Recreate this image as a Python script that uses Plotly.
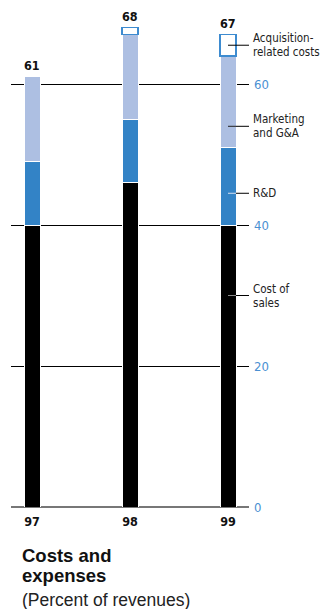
import plotly.graph_objects as go

# Costs and expenses as a percent of revenues, fiscal 97-99
years = ["97", "98", "99"]
cost_of_sales = [40, 46, 40]
r_and_d = [9, 9, 11]
marketing_ga = [12, 12, 13]
acquisition_costs = [None, 1, 3]
totals = [61, 68, 67]
y_ticks = [0, 20, 40, 60]

# Callout labels on the right of the last bar: text lines and the level they point to
callout_lines = [["Acquisition-", "related costs"], ["Marketing", "and G&A"], ["R&D"], ["Cost of", "sales"]]
callout_levels = [65.5, 54, 44.5, 30]

NARROW = "Liberation Sans Narrow, Arial Narrow, DejaVu Sans Condensed, sans-serif"
SANS = "Liberation Sans, Arial, Helvetica, sans-serif"
BLUE_TICK = "#4a90d2"

W, H = 323, 609
M_L, M_R, M_T, M_B = 11, 74, 5, 102
PX_PER_UNIT_Y = 7.05
PX_PER_UNIT_X = 98.0
FIRST_BAR_PX = 32

x_pos = list(range(len(years)))
bar_w = 16 / PX_PER_UNIT_X
plot_h = H - M_T - M_B
plot_w = W - M_L - M_R
x_lo = (M_L - FIRST_BAR_PX) / PX_PER_UNIT_X
x_hi = x_lo + plot_w / PX_PER_UNIT_X
y_hi = plot_h / PX_PER_UNIT_Y

fig = go.Figure()
sep = dict(color="white", width=1)
fig.add_bar(x=x_pos, y=cost_of_sales, width=bar_w, marker=dict(color="#000000", line=sep), name="Cost of sales")
fig.add_bar(x=x_pos, y=r_and_d, width=bar_w, marker=dict(color="#3383c6", line=sep), name="R&D")
fig.add_bar(x=x_pos, y=marketing_ga, width=bar_w, marker=dict(color="#adbfe2", line=sep), name="Marketing and G&A")
fig.add_bar(x=x_pos, y=acquisition_costs, width=bar_w,
            marker=dict(color="white", line=dict(color="#3d8bd0", width=1.5)), name="Acquisition-related costs")

annotations = []
for xi, tot in zip(x_pos, totals):
    annotations.append(dict(x=xi, y=tot, xref="x", yref="y", text=f"<b>{tot}</b>", showarrow=False,
                            yanchor="bottom", yshift=2, font=dict(family=NARROW, size=12.5, color="#111")))

shapes = []
last = x_pos[-1]
edge = last + bar_w / 2
text_x_paper = (251 - M_L) / plot_w
inner_colors = ["#000000", "#222222", "#d6e2f2", "#8a8a8a"]
for lines, lvl, ic in zip(callout_lines, callout_levels, inner_colors):
    shapes.append(dict(type="line", xref="x", yref="y", x0=last, x1=edge, y0=lvl, y1=lvl,
                       line=dict(color=ic, width=1)))
    shapes.append(dict(type="line", xref="x", yref="y", x0=edge, x1=x_hi, y0=lvl, y1=lvl,
                       line=dict(color="#000", width=1)))
    n = len(lines)
    for k, t in enumerate(lines):
        shift = (n - 1) * 7 - k * 14
        annotations.append(dict(x=text_x_paper, y=lvl, xref="paper", yref="y", text=t, showarrow=False,
                                xanchor="left", yanchor="middle", yshift=shift,
                                font=dict(family=NARROW, size=11.5, color="#222")))

title_x = (20 - M_L) / plot_w
for txt, center_px, size in [("<b>Costs and</b>", 555, 18.5), ("<b>expenses</b>", 575, 18.5),
                             ("(Percent of revenues)", 600, 17.5)]:
    annotations.append(dict(x=title_x, y=0, xref="paper", yref="paper", text=txt, showarrow=False,
                            xanchor="left", yanchor="middle", yshift=-(center_px - (H - M_B)),
                            font=dict(family=SANS, size=size, color="#222" if size < 18 else "#111")))

fig.update_layout(
    width=W, height=H, barmode="stack", showlegend=False,
    margin=dict(l=M_L, r=M_R, t=M_T, b=M_B, pad=0),
    paper_bgcolor="white", plot_bgcolor="white",
    annotations=annotations, shapes=shapes,
    xaxis=dict(range=[x_lo, x_hi], tickvals=x_pos, ticktext=[f"<b>{y}</b>" for y in years],
               showgrid=False, zeroline=False, showline=False, ticks="", ticklabelstandoff=5,
               tickfont=dict(family=NARROW, size=12.5, color="#111"), fixedrange=True),
    yaxis=dict(range=[0, y_hi], tickvals=y_ticks, side="right", showgrid=True, gridcolor="#000",
               gridwidth=1, zeroline=True, zerolinecolor="#777", zerolinewidth=2, showline=False,
               ticks="", ticklabelstandoff=4,
               tickfont=dict(family=NARROW, size=13, color=BLUE_TICK), fixedrange=True),
)

fig.write_html("out.html")
